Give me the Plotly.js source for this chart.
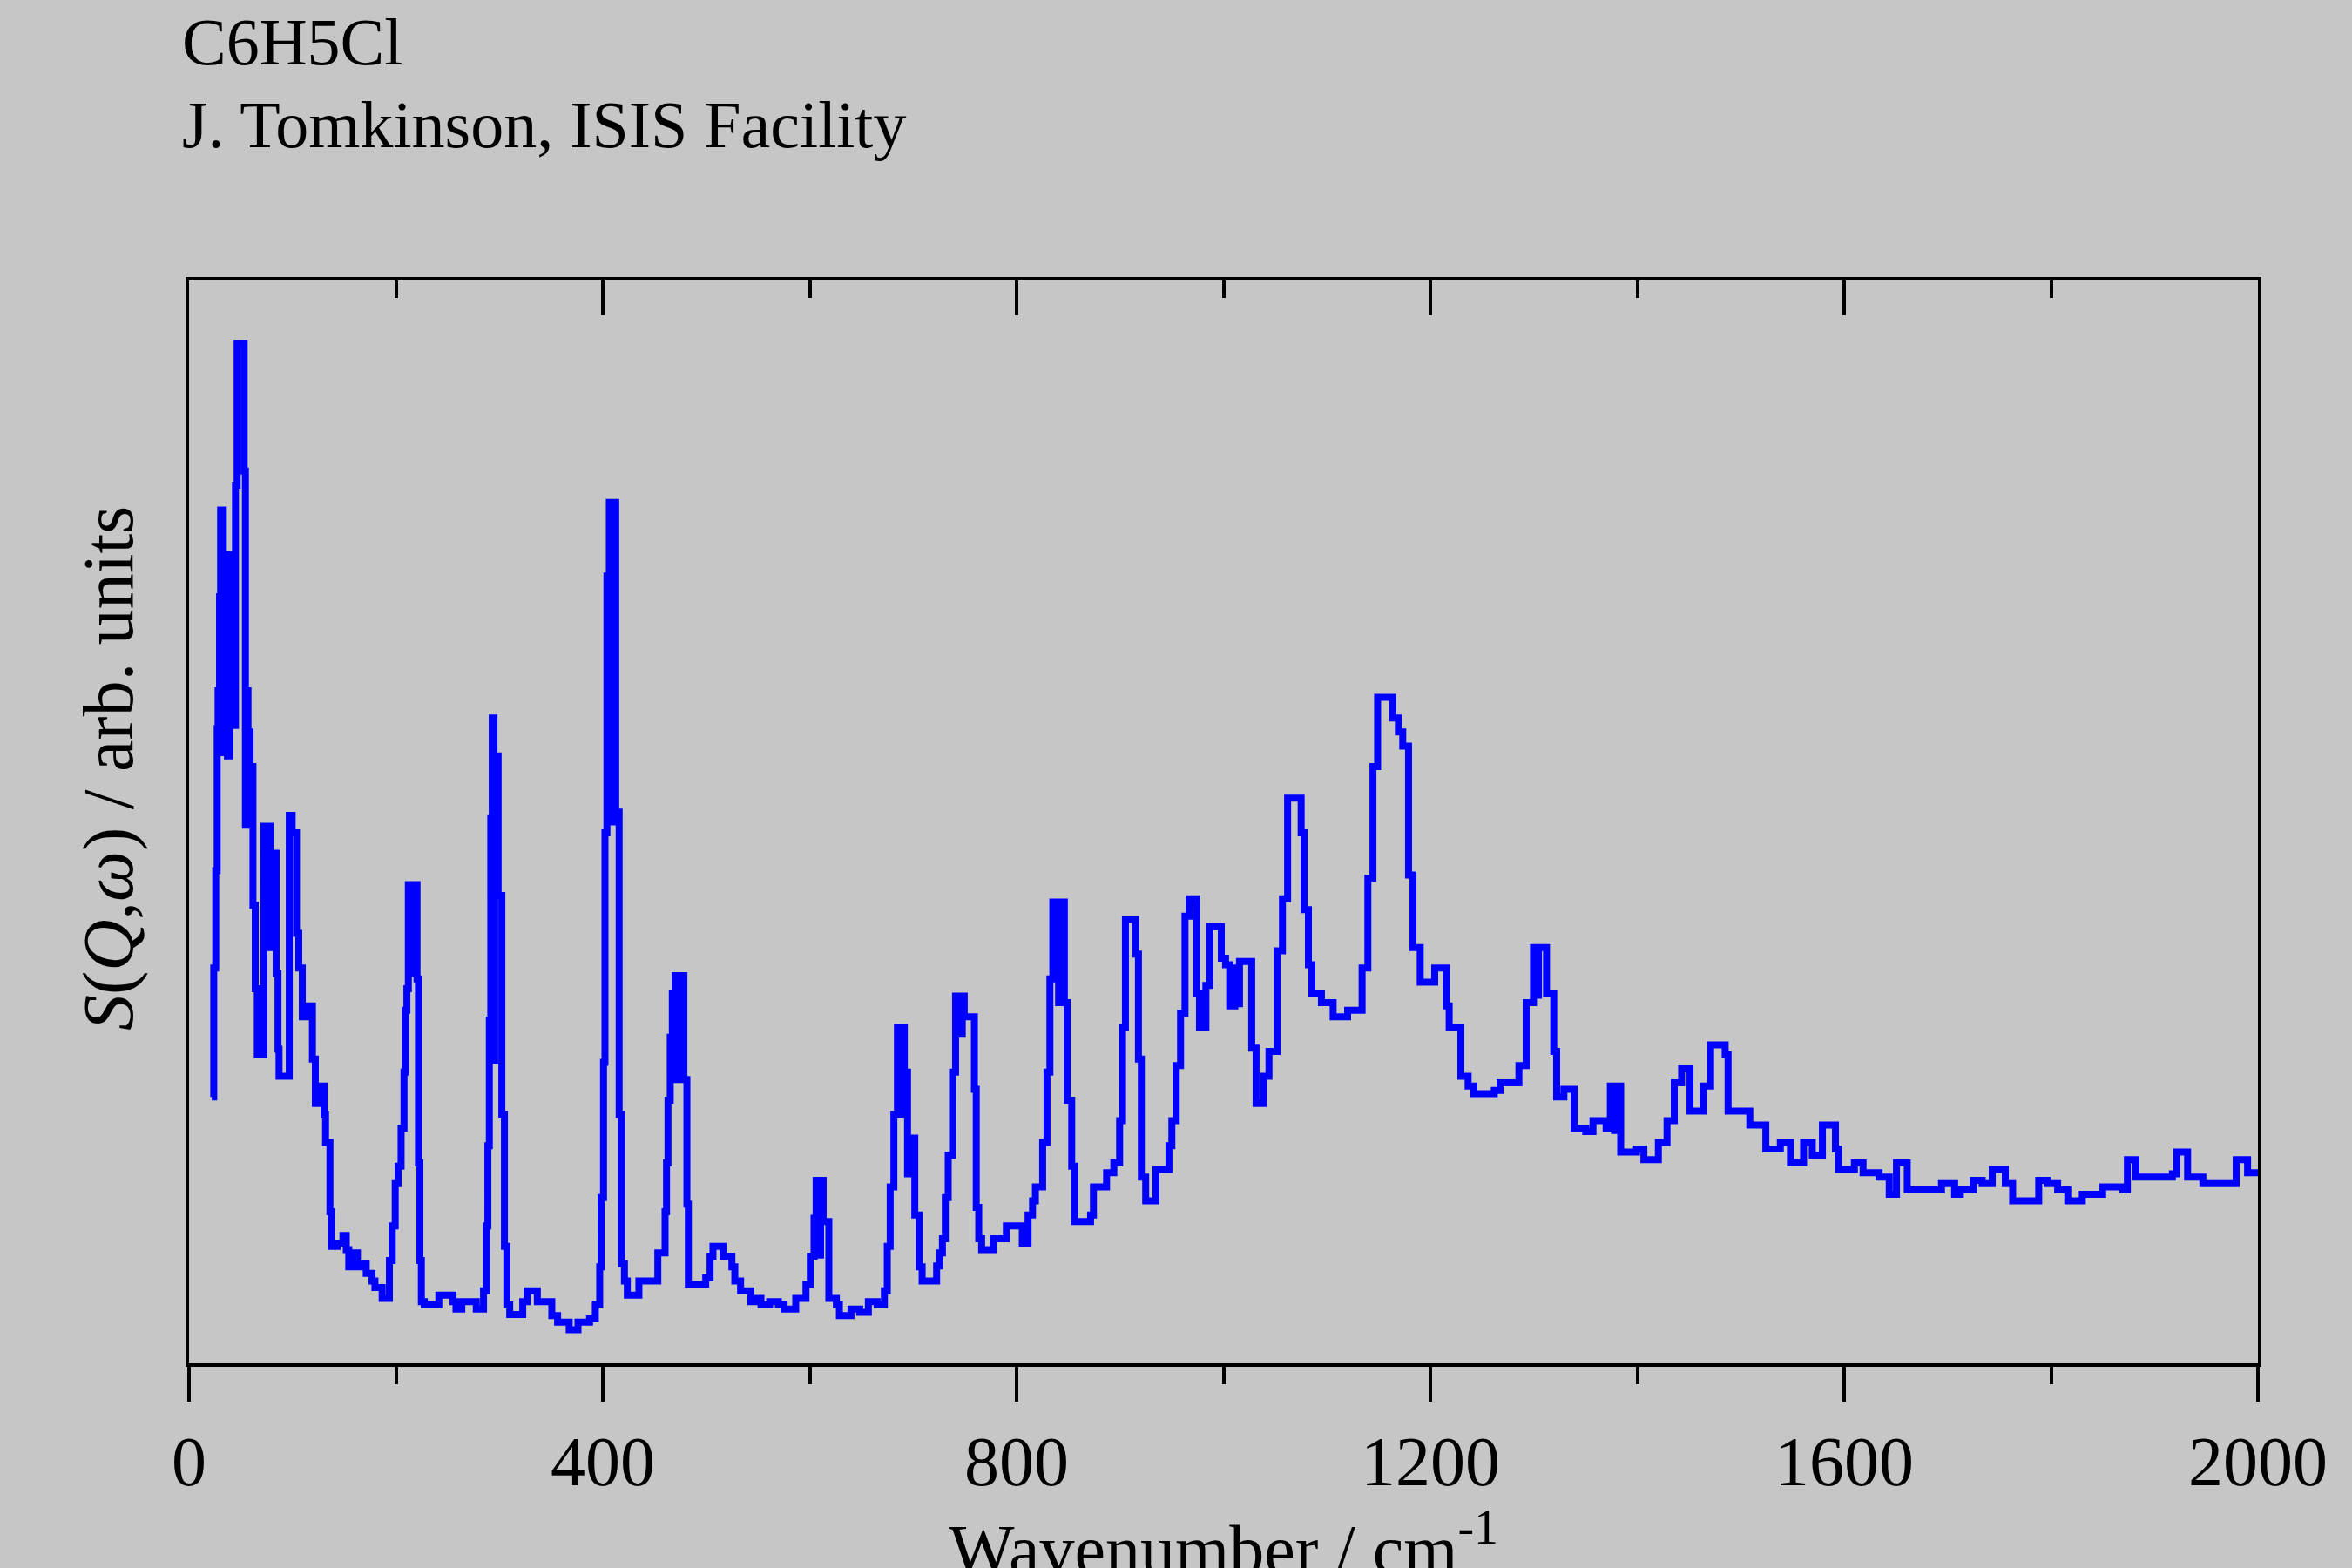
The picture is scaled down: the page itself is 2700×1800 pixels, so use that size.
<!DOCTYPE html>
<html>
<head>
<meta charset="utf-8">
<script src="https://cdn.plot.ly/plotly-3.0.1.min.js"></script>
<style>
  html, body { margin: 0; padding: 0; background: #c6c6c6; }
  #chart { width: 2700px; height: 1800px; }
</style>
</head>
<body>
<div id="chart"></div>
<script>
// INS spectrum of chlorobenzene (step histogram)
const wavenumber = [
  22, 23.9, 25.8, 27.2, 28.1, 29.5, 30.5, 33.1, 35.1, 37.1, 39.3, 42.7, 44.9, 46.5,
  53.3, 54.5, 55.6, 57, 59, 61.8, 64, 66, 72.4, 78.6, 80, 84.2, 86, 87, 96.9, 99.7,
  103.9, 106.1, 109.5, 115.1, 119.3, 122.1, 124.9, 130.6, 132, 136.2, 137.6, 143.2,
  148.8, 152, 154.4, 157.2, 162.8, 165.6, 171.3, 176.9, 179.7, 186.7, 193.7, 196.5,
  199.3, 202.1, 205, 207.8, 209.2, 210.6, 212, 214, 215.2, 220.4, 221.8, 223.2, 224.6,
  227.4, 241.5, 249.6, 255.2, 258.1, 263.7, 277.7, 284.7, 287.5, 288.9, 290.3, 291.7,
  293.1, 294.8, 295.5, 298.8, 302.4, 304.9, 307.2, 310, 322.6, 326.8, 336.7, 350.7,
  356.3, 367.5, 376, 387.2, 392.8, 397, 398.4, 400.7, 402.1, 404, 406.3, 408.3, 409.3,
  412.5, 415.8, 418.1, 420.9, 423.7, 434.9, 453.2, 460.2, 461.6, 463, 465.2, 467.2,
  470, 471.4, 472.8, 478.4, 481.3, 482.7, 499.5, 503.7, 506.5, 516.3, 524.8, 527.6,
  533.2, 543, 547.2, 552.9, 561.3, 569.7, 575.3, 586.5, 596.4, 600.6, 604.2, 606.2,
  609.5, 610.5, 613, 618.5, 625.8, 628.7, 639.9, 648.3, 656.7, 665.2, 672.2, 675,
  677.8, 681.4, 684.8, 687.5, 688.5, 691.5, 694.6, 697.4, 701.6, 705.9, 708.7, 722.7,
  725.5, 728.3, 731.1, 733.9, 738.1, 741, 746.6, 747.5, 749.4, 759.2, 761, 763.4,
  766.2, 777.5, 790.1, 805.5, 811.1, 815.4, 818.2, 825.2, 829.4, 832.2, 835, 840.6,
  841.5, 846.2, 849, 853.3, 856.1, 871.5, 874.3, 887, 894, 899.6, 902.4, 905.2, 915,
  917.8, 920.6, 924.8, 934.7, 947.3, 950.1, 954.3, 958.5, 962.8, 967, 974, 976.8,
  983, 986.6, 997.9, 1002, 1006, 1011, 1013.5, 1015.5, 1027.3, 1031.5, 1038.6, 1044,
  1052, 1057, 1062, 1075.1, 1077.9, 1082.1, 1085.5, 1094.7, 1106, 1120, 1134, 1139.6,
  1144.5, 1149, 1163.5, 1169.1, 1173.3, 1178.9, 1183.2, 1190.2, 1204.2, 1215.4,
  1218.2, 1229.5, 1236.5, 1242.1, 1261.8, 1267.4, 1285.6, 1292.6, 1299.7, 1303,
  1304.5, 1312.3, 1319.3, 1322.1, 1329.1, 1339, 1350.2, 1357.2, 1369.9, 1374, 1378,
  1380, 1384, 1399.3, 1406.4, 1420.4, 1428.8, 1435.8, 1442.9, 1451, 1463.9, 1470.9,
  1485, 1487.8, 1508.8, 1524.3, 1538.3, 1548.1, 1560.8, 1569.2, 1579, 1591.6, 1594.5,
  1609.9, 1618.3, 1633.8, 1643.6, 1650.6, 1661, 1694.1, 1706.8, 1712.3, 1725, 1733.4,
  1743.2, 1755.8, 1762.9, 1788.1, 1796.5, 1806.4, 1816.2, 1830.2, 1849.9, 1869.5,
  1873.8, 1882, 1917.3, 1921.5, 1932, 1946.8, 1979, 1990, 2000
];
const intensity = [
  24.6, 36.5, 45.5, 58.6, 62.1, 70.8, 78.8, 56.4, 74.3, 56.1, 74.7, 58.9, 81.1, 94.2,
  82.4, 49.7, 62.1, 58.3, 55.1, 42.3, 34.6, 28.5, 49.6, 38.4, 47.1, 36, 29, 26.5, 50.6, 49,
  39.7, 36.5, 32, 33, 28.1, 24, 25.6, 23, 20.4, 14, 10.8, 11.1,
  11.8, 10.5, 8.9, 10.2, 8.9, 9.2, 8.3, 7.6, 7.0, 6.0, 9.5, 12.7,
  16.6, 18.2, 21.7, 26.9, 32.6, 34.6, 44.2, 36, 44.2, 35.5, 18.5, 9.5, 5.7,
  5.4, 6.3, 6.3, 5.7, 5.0, 5.7, 5.0, 6.7, 12.7, 20.1, 31.7, 50.3,
  59.6, 28, 56.1, 43.2, 23, 10.8, 5.4, 4.5, 5.7, 6.7, 5.7, 4.4,
  3.8, 3.1, 3.8, 4.1, 5.4, 8.9, 15.3, 27.8, 49, 72.7, 79.5, 50, 79.5,
  50.9, 23, 9.2, 7.6, 6.3, 7.6, 10.2, 14, 18.5, 24.3, 30.1, 34.2,
  35.8, 26.2, 35.8, 26.2, 14.7, 7.3, 7.9, 9.9, 10.8, 9.9, 8.9, 7.6,
  6.7, 5.7, 6.0, 5.4, 5.7, 5.4, 5.0, 6.0, 7.3, 9.9, 13.4, 16.9,
  10, 16.9, 13.1, 6.0, 5.4, 4.4, 5.0, 4.7, 5.7, 5.4, 6.7, 10.8,
  16.3, 23, 31, 23, 31, 26.9, 17.5, 20.8, 13.7, 8.9, 7.6, 9.0,
  10.2, 11.5, 15.3, 19.2, 26.9, 33.9, 30.4, 33.9, 32, 25.3, 14.4, 11.5,
  10.5, 11.5, 12.7, 11.1, 13.7, 15, 16.3, 20.4, 26.9, 35.5, 42.6, 33.3,
  42.6, 33.3, 24.3, 18.2, 13.1, 13.7, 16.3, 17.6, 18.5, 22.4, 31, 41, 37.8,
  28.1, 17.2, 15, 17.9, 20.1, 22.4, 27.5, 32.3, 41.3, 42.9, 34.2, 31,
  34.9, 40.3, 37.4, 36.8, 33, 36.5, 33.2, 37.1, 29.1, 24, 26.5, 28.8,
  38.1, 42.9, 52.2, 49, 41.9, 36.8, 34.2, 33.3, 32, 32.6, 36.5, 44.8,
  55.1, 61.5, 59.6, 58.3, 57, 45.1, 38.4, 35.2, 36.5, 33,
  31, 26.5, 25.6, 24.9, 25.2, 25.9, 27.5, 33.3, 38.4, 34,
  38.4, 34.2, 28.8, 24.6, 25.3, 21.7, 21.4, 22.4, 21.7, 25.6, 21.5,
  25.6, 19.5, 19.8, 18.8, 20.4, 22.4, 25.9, 27.2, 23.3, 25.6, 29.4,
  28.5, 23.3, 22, 19.8, 20.4, 18.5, 20.4, 19.2, 22, 19.8, 17.9,
  18.5, 17.6, 17.2, 15.6, 18.5, 16, 16.6, 15.6, 16, 16.9, 16.6,
  17.9, 16.6, 15, 16.9, 16.6, 16, 15, 15.6, 16.3, 16,
  18.8, 17.2, 17.5, 19.5, 17.2, 16.6, 18.8, 17.6, 17.6
];
const xTickStep = 400;
const xMinorStep = 200;
const titleLines = ['C6H5Cl', 'J. Tomkinson, ISIS Facility'];
const xTitle = 'Wavenumber / cm<sup>-1</sup>';
const yTitle = '<i>S</i>(<i>Q</i>,<i>ω</i>) / arb. units';

const serif = 'Liberation Serif, Times New Roman, serif';
const bg = '#c6c6c6';

const traces = [
  {
    type: 'scatter', mode: 'lines', x: wavenumber, y: intensity,
    line: { color: '#0000ff', width: 8, shape: 'hv' },
    hoverinfo: 'skip', showlegend: false,
  },
  // empty trace so the top (inward-tick) axis gets its own subplot
  { type: 'scatter', x: [], y: [], xaxis: 'x2', showlegend: false },
];

const tickStyle = { tickcolor: '#000', tickwidth: 4 };

// text placed in paper coords; the x title sits partly below the page edge as in the source
const label = (text, x, y, extra) => Object.assign({
  text, xref: 'paper', yref: 'paper', x, y, showarrow: false,
  font: { family: serif, size: 76, color: '#000' },
}, extra);

Plotly.newPlot('chart', traces, {
  width: 2700, height: 1800,
  paper_bgcolor: bg, plot_bgcolor: bg,
  font: { family: serif, color: '#000', size: 80 },
  margin: { l: 217, r: 108, t: 322, b: 235 },
  showlegend: false,
  xaxis: {
    range: [0, 2000], tick0: 0, dtick: xTickStep,
    showgrid: false, zeroline: false,
    showline: true, linecolor: '#000', linewidth: 4, mirror: true,
    ticks: 'outside', ticklen: 40, ...tickStyle,
    minor: { ticks: 'outside', ticklen: 20, dtick: xMinorStep, tick0: 0, ...tickStyle },
    tickfont: { family: serif, size: 80, color: '#000' },
  },
  xaxis2: {
    overlaying: 'x', side: 'top', anchor: 'y',
    range: [0, 2000], tick0: 0, dtick: xTickStep,
    showgrid: false, zeroline: false, showline: false, showticklabels: false,
    ticks: 'inside', ticklen: 40, ...tickStyle,
    minor: { ticks: 'inside', ticklen: 20, dtick: xMinorStep, tick0: 0, ...tickStyle },
  },
  yaxis: {
    range: [0, 100],
    showgrid: false, zeroline: false, showticklabels: false, ticks: '',
    showline: true, linecolor: '#000', linewidth: 4, mirror: true,
  },
  annotations: [
    label(titleLines[0], -0.0042, 1.2204, { xanchor: 'left', yanchor: 'middle' }),
    label(titleLines[1], -0.0042, 1.144, { xanchor: 'left', yanchor: 'middle' }),
    label(yTitle, -0.0387, 0.5495, {
      xanchor: 'center', yanchor: 'middle', textangle: -90,
      font: { family: serif, size: 82, color: '#000' },
    }),
    label(xTitle, 0.5, -0.1247, {
      xanchor: 'center', yanchor: 'top',
      font: { family: serif, size: 80, color: '#000' },
    }),
  ],
}, { displayModeBar: false, staticPlot: true });
</script>
</body>
</html>
